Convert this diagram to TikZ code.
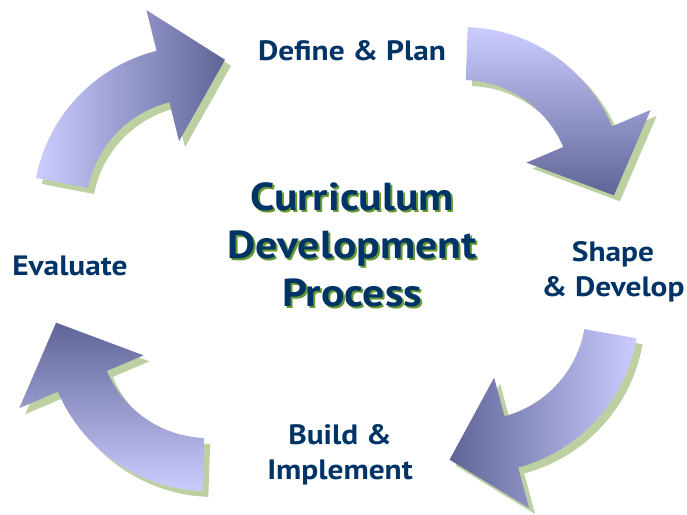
\documentclass[tikz,border=0pt]{standalone}
\usepackage{fontspec}
\setmainfont{PT Sans}[FakeStretch=1.12]
\definecolor{navy}{RGB}{0,51,102}
\definecolor{leafgreen}{RGB}{102,153,51}
\definecolor{lavender}{RGB}{204,204,255}
\definecolor{slate}{RGB}{95,100,150}
\definecolor{sage}{RGB}{188,208,162}
\tikzset{
  steplabel/.style={font=\bfseries\fontsize{28}{35}\selectfont, text=navy, align=center, inner sep=0pt},
  titletext/.style={font=\bfseries\fontsize{39}{48}\selectfont, align=center, inner sep=0pt},
}
% one bent block arrow, #1 = angle of its tail
\newcommand\bentarrow[1]{(#1:\ro) arc[start angle=#1, end angle=#1-65, radius=\ro] -- ({#1-65}:205) -- ({#1-90}:152) -- ({#1-65}:70) -- ({#1-65}:\ri) arc[start angle=#1-65, end angle=#1, radius=\ri] -- cycle}
\begin{document}
\begin{tikzpicture}[x=1pt, y=1pt, line join=round]
  \def\ri{110} \def\ro{163} % radii of the band
  \useasboundingbox (0,0) rectangle (687,-514);
  % arrows
  \begin{scope}[shift={(196,-209)}]
    \fill[sage, shift={(6,-6)}] \bentarrow{169};
    \shade[left color=lavender, right color=slate] \bentarrow{169};
  \end{scope}
  \begin{scope}[shift={(462,-190)}]
    \fill[sage, shift={(6,-6)}] \bentarrow{88};
    \shade[top color=lavender, bottom color=slate] \bentarrow{88};
  \end{scope}
  \begin{scope}[shift={(476,-310)}]
    \fill[sage, shift={(6,-6)}] \bentarrow{-10};
    \shade[left color=slate, right color=lavender] \bentarrow{-10};
  \end{scope}
  \begin{scope}[shift={(208,-328)}]
    \fill[sage, shift={(6,-6)}] \bentarrow{268};
    \shade[top color=slate, bottom color=lavender] \bentarrow{268};
  \end{scope}
  % labels
  \node[steplabel] (plan) at (352,-51) {Define \& Plan};
  \node[steplabel] (shape) at (613,-272) {Shape\\\& Develop};
  \node[steplabel] (build) at (340,-455) {Build \&\\Implement};
  \node[steplabel] (evaluate) at (70,-266) {Evaluate};
  % title with its shadow
  \node[titletext, text=leafgreen] (titleshadow) at (354,-247) {Curriculum\\Development\\Process};
  \node[titletext, text=navy] (title) at (352,-245) {Curriculum\\Development\\Process};
\end{tikzpicture}
\end{document}
